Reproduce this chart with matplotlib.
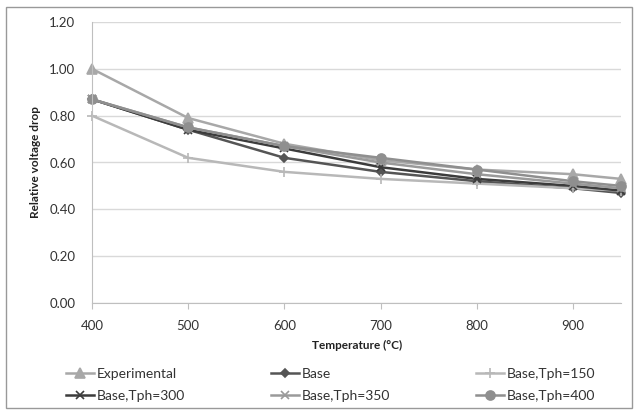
import matplotlib
matplotlib.use('Agg')
from matplotlib import pyplot as plt

plt.rcParams['font.family'] = ['Lato', 'DejaVu Sans']

temps = [400, 500, 600, 700, 800, 900, 950]
experimental = [1.00, 0.79, 0.68, 0.61, 0.57, 0.55, 0.53]
base = [0.87, 0.74, 0.62, 0.56, 0.52, 0.49, 0.47]
base_150 = [0.80, 0.62, 0.56, 0.53, 0.51, 0.49, 0.48]
base_300 = [0.87, 0.74, 0.66, 0.58, 0.53, 0.50, 0.48]
base_350 = [0.87, 0.75, 0.67, 0.60, 0.55, 0.51, 0.49]
base_400 = [0.87, 0.75, 0.67, 0.62, 0.57, 0.52, 0.50]

labels = ['Experimental', 'Base', 'Base,Tph=150', 'Base,Tph=300', 'Base,Tph=350', 'Base,Tph=400']
series = [experimental, base, base_150, base_300, base_350, base_400]
colors = ['#a8a8a8', '#555555', '#b8b8b8', '#3c3c3c', '#9a9a9a', '#8f8f8f']
markers = ['^', 'D', '+', 'x', 'x', 'o']
msizes = [7, 4.5, 7, 6, 6, 6.5]

fig = plt.figure(figsize=(6.36, 4.11), dpi=100)
ax = fig.add_axes([92/636, 1-303/411, (621-92)/636, (303-22)/411])

handles = []
for ys, lab, c, m, ms in zip(series, labels, colors, markers, msizes):
    h, = ax.plot(temps, ys, color=c, marker=m, markersize=ms, linewidth=1.8, label=lab,
                 markeredgewidth=1.2, clip_on=False)
    handles.append(h)

ax.set_xlim(400, 950)
ax.set_ylim(0, 1.2)
ax.set_xticks([400, 500, 600, 700, 800, 900])
ax.set_yticks([0, 0.2, 0.4, 0.6, 0.8, 1.0, 1.2])
ax.set_yticklabels(['%.2f' % v for v in ax.get_yticks()])
ax.grid(axis='y', color='#d9d9d9', linewidth=1)
ax.set_axisbelow(True)
for s in ['top', 'right']:
    ax.spines[s].set_visible(False)
ax.spines['left'].set_color('#bfbfbf')
ax.spines['bottom'].set_color('#bfbfbf')
ax.tick_params(axis='both', colors='#bfbfbf', labelcolor='#333333', labelsize=9.5, length=4)
ax.tick_params(axis='x', pad=8)
ax.tick_params(axis='y', length=0, pad=12)
fig.text(357/636, 1-345/411, 'Temperature (°C)', fontsize=8.5, fontweight='bold',
         color='#222222', ha='center', va='center')
ax.set_ylabel('Relative voltage drop', fontsize=8.5, fontweight='bold', color='#222222', labelpad=6)

# one legend per column, rows: (Experimental, Base, 150) / (300, 350, 400)
col_x = [66, 271, 476]
for i in range(3):
    leg = fig.legend([handles[i], handles[i + 3]], [labels[i], labels[i + 3]],
                     loc='upper left', bbox_to_anchor=(col_x[i]/636, 1-368/411),
                     frameon=False, fontsize=10, handlelength=2.0, handletextpad=0.2,
                     labelspacing=0.72, borderaxespad=0, borderpad=0)
    for t in leg.get_texts():
        t.set_color('#333333')

fig.patches.append(plt.Rectangle((6/636, 3/411), 626/636, 401/411, transform=fig.transFigure,
                                 fill=False, edgecolor='#999999', linewidth=1))
fig.savefig('out.png', dpi=100)
